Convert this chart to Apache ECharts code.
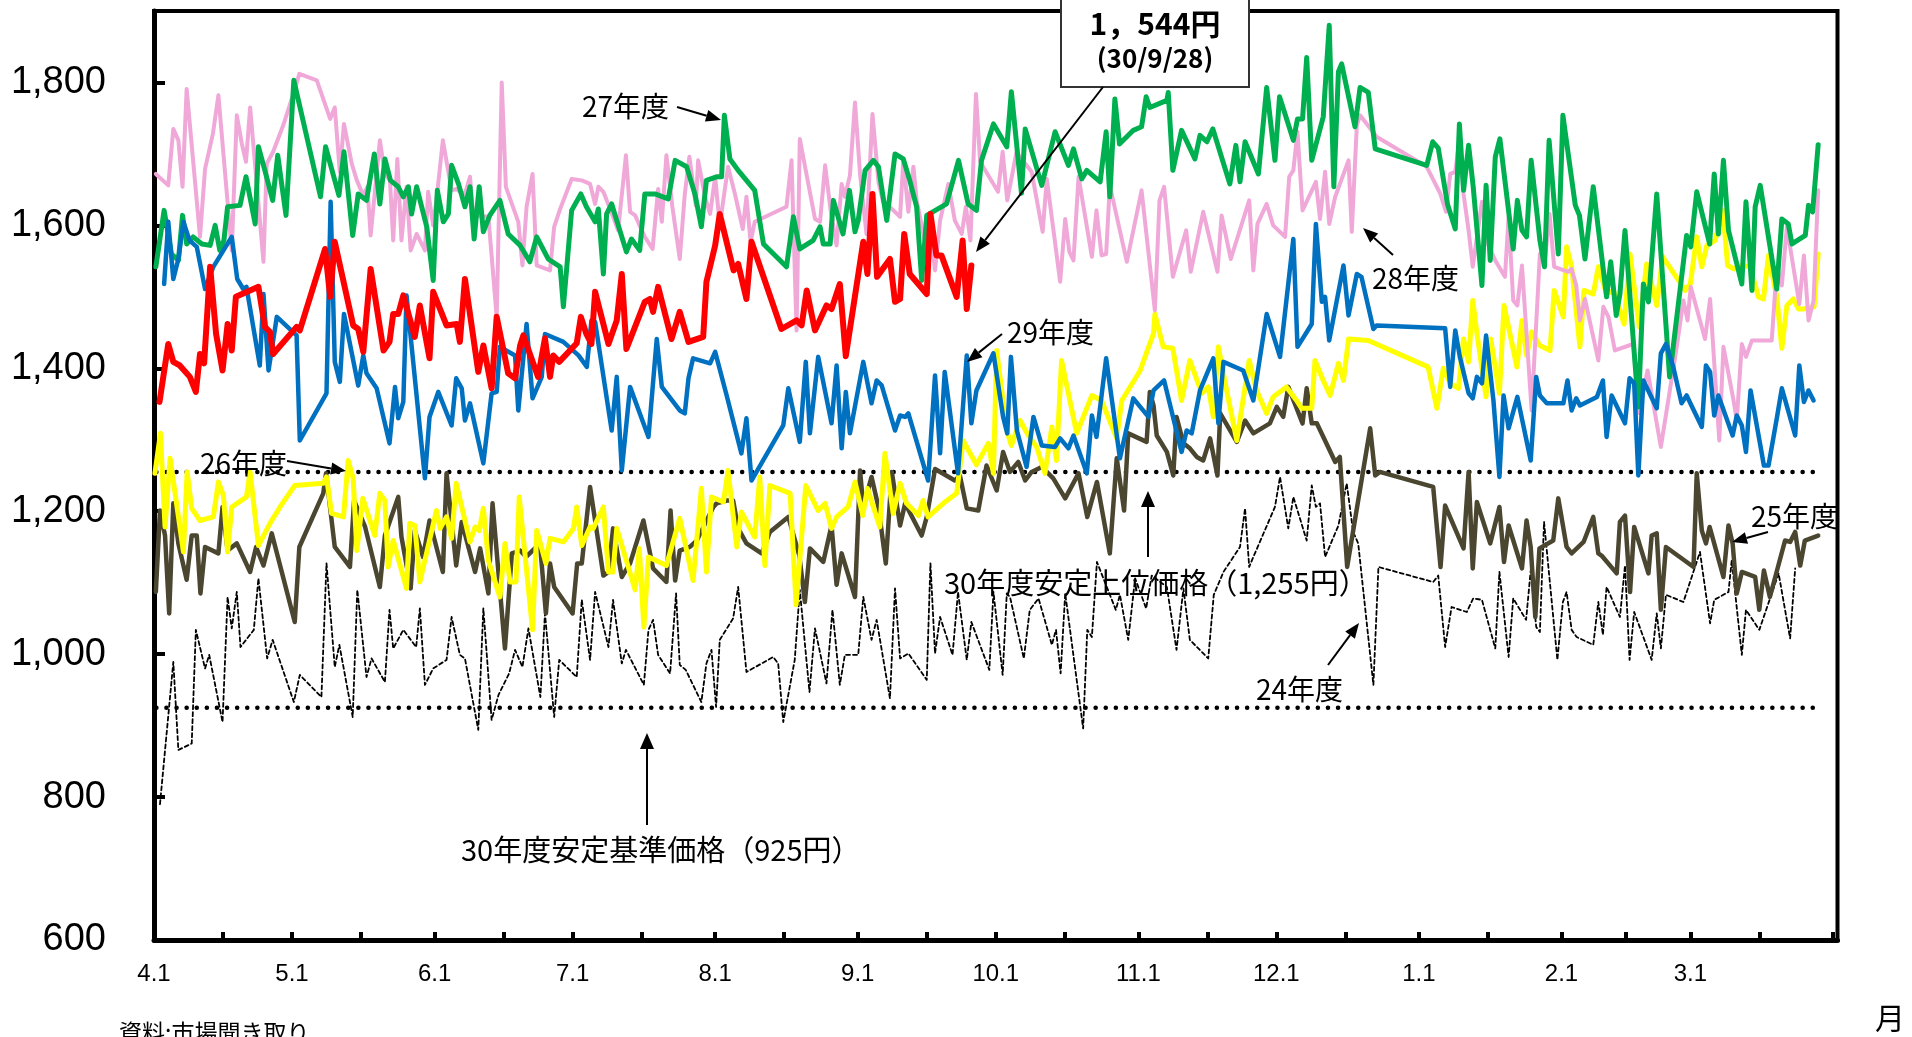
<!DOCTYPE html>
<html><head><meta charset="utf-8">
<script src="https://cdn.jsdelivr.net/npm/echarts@6/dist/echarts.min.js"></script>
<style>html,body{margin:0;padding:0;background:#fff;overflow:hidden}#c{width:1912px;height:1037px}</style>
</head><body><div id="c"></div>
<script>
// ---- axis definitions (day index from April 1) ----
const monthTickDays = [0,30,61,91,122,153,183,214,244,275,306,334];
const monthLabels = ['4.1','5.1','6.1','7.1','8.1','9.1','10.1','11.1','12.1','1.1','2.1','3.1'];
const halfTickDays = [0,15,30,45,61,76,91,106,122,137,153,168,183,198,214,229,244,259,275,290,306,320,334,349,365];
const yTicks = [600,800,1000,1200,1400,1600,1800];

// ---- reference prices ----
const upperPrice = 1255;
const basePrice = 925;
const refDays = [0.5, 361.5];

// ---- series: [day, price] ----
const FY30 = [[1.2,1353],[3.1,1434],[4.2,1409],[5.6,1404],[7.8,1388],[9.1,1367],[10.0,1420],[10.9,1407],[12.2,1542],[13.5,1448],[14.9,1397],[16.0,1462],[16.9,1425],[17.8,1500],[22.7,1514],[24.1,1458],[25.2,1451],[25.9,1420],[31.0,1458],[31.7,1453],[37.2,1567],[38.3,1500],[39.3,1577],[43.3,1460],[44.4,1455],[45.5,1423],[47.1,1539],[49.9,1425],[51.2,1437],[52.0,1476],[53.1,1476],[54.2,1502],[56.7,1444],[57.8,1488],[59.9,1414],[60.7,1507],[63.6,1460],[65.8,1462],[66.5,1437],[67.6,1525],[70.5,1395],[71.6,1432],[73.4,1372],[74.5,1472],[77.0,1393],[78.5,1386],[79.6,1432],[80.3,1446],[83.5,1388],[85.0,1442],[86.1,1388],[86.8,1418],[88.1,1409],[91.9,1435],[92.8,1472],[94.0,1448],[95.1,1434],[95.9,1507],[98.8,1434],[100.6,1467],[101.7,1532],[102.7,1427],[106.7,1493],[107.8,1497],[108.5,1479],[109.6,1514],[112.5,1441],[114.3,1479],[116.2,1437],[119.4,1444],[120.1,1521],[122.0,1572],[123.0,1616],[126.0,1537],[127.0,1546],[128.8,1497],[129.9,1577],[136.4,1455],[139.7,1467],[140.8,1460],[141.9,1509],[143.7,1453],[146.2,1488],[147.3,1483],[149.1,1518],[150.4,1417],[154.2,1577],[155.1,1532],[156.2,1644],[157.2,1528],[160.0,1553],[161.1,1493],[162.2,1497],[163.1,1588],[164.3,1532],[168.0,1504],[168.8,1616],[170.1,1558],[171.2,1558],[174.5,1500],[175.8,1579],[176.7,1483],[177.7,1544]];

const FY27 = [[0.4,1542],[2.2,1621],[3.8,1560],[5.3,1551],[6.2,1614],[7.1,1574],[8.5,1584],[10.4,1574],[12.2,1572],[13.3,1600],[14.3,1565],[15.2,1579],[16.0,1626],[18.7,1628],[20.0,1668],[22.0,1602],[22.7,1710],[24.1,1677],[25.8,1635],[26.9,1698],[28.7,1614],[30.4,1803],[36.2,1640],[37.3,1710],[40.2,1642],[41.3,1703],[43.2,1586],[44.4,1644],[46.2,1635],[47.9,1700],[49.1,1630],[50.2,1693],[51.4,1663],[53.1,1654],[54.2,1640],[55.3,1654],[56.0,1616],[57.1,1654],[59.3,1598],[60.7,1523],[61.6,1649],[62.9,1605],[64.0,1616],[64.7,1684],[66.2,1658],[67.6,1626],[68.7,1654],[69.6,1581],[70.7,1654],[71.6,1591],[73.0,1614],[75.2,1635],[77.0,1588],[79.6,1572],[81.7,1549],[83.2,1584],[85.7,1553],[88.3,1542],[89.0,1486],[90.8,1621],[92.8,1644],[94.0,1626],[95.9,1605],[96.6,1623],[97.7,1532],[98.4,1616],[99.5,1630],[102.7,1563],[103.8,1581],[105.6,1565],[106.7,1644],[108.9,1644],[111.8,1637],[113.3,1691],[115.8,1682],[117.6,1644],[119.0,1598],[120.1,1663],[122.3,1668],[123.4,1668],[124.0,1754],[125.2,1693],[127.0,1677],[130.6,1649],[132.5,1574],[137.5,1542],[139.0,1612],[140.4,1567],[143.3,1579],[144.8,1598],[145.5,1574],[147.0,1574],[147.7,1635],[149.8,1588],[151.2,1649],[152.4,1591],[153.1,1607],[154.6,1677],[156.4,1691],[157.5,1682],[159.3,1607],[161.1,1700],[162.9,1693],[164.3,1663],[165.8,1626],[166.9,1523],[168.0,1614],[172.3,1630],[174.9,1691],[177.0,1630],[178.8,1621],[179.9,1691],[182.5,1742],[185.4,1710],[186.4,1787],[188.6,1645],[189.4,1735],[193.0,1656],[195.9,1731],[198.8,1684],[199.9,1707],[201.7,1665],[202.8,1677],[205.7,1661],[207.0,1731],[207.8,1640],[208.9,1777],[209.9,1714],[212.9,1733],[214.7,1738],[215.7,1780],[216.5,1765],[220.2,1775],[220.5,1786],[221.5,1677],[223.4,1733],[226.3,1693],[227.4,1726],[228.9,1717],[230.2,1735],[233.9,1658],[235.2,1712],[236.1,1661],[237.2,1717],[240.1,1672],[241.9,1793],[243.7,1691],[244.7,1780],[247.7,1719],[248.6,1749],[249.7,1749],[250.6,1835],[251.7,1691],[254.2,1752],[255.5,1880],[256.5,1654],[257.5,1815],[258.2,1826],[261.1,1738],[262.2,1793],[264.0,1786],[265.5,1707],[276.7,1684],[278.0,1717],[279.2,1708],[281.2,1630],[282.9,1595],[283.8,1742],[284.7,1649],[285.8,1712],[286.8,1654],[288.7,1516],[289.6,1656],[290.5,1551],[291.6,1696],[292.6,1721],[295.5,1567],[296.4,1635],[297.4,1593],[298.4,1584],[299.4,1691],[301.3,1579],[302.3,1542],[303.3,1719],[305.3,1560],[306.3,1754],[309.0,1628],[309.9,1614],[311.1,1553],[312.9,1654],[315.8,1500],[316.7,1549],[317.9,1474],[318.7,1504],[319.8,1593],[322.7,1346],[323.8,1518],[324.9,1493],[326.7,1644],[329.5,1388],[333.2,1586],[334.1,1570],[335.4,1647],[338.2,1574],[339.2,1672],[340.1,1588],[341.2,1691],[342.3,1593],[345.2,1518],[346.1,1633],[347.4,1509],[348.1,1626],[349.2,1656],[352.8,1511],[353.9,1609],[355.3,1602],[356.1,1574],[359.0,1586],[359.7,1628],[360.6,1619],[361.8,1713]];

const FY28 = [[0.4,1672],[3.1,1656],[4.2,1735],[5.3,1719],[6.2,1654],[7.1,1791],[10.0,1584],[11.1,1679],[12.8,1728],[14.0,1782],[16.9,1565],[18.0,1754],[19.1,1714],[20.0,1689],[20.9,1765],[23.8,1549],[24.5,1686],[25.9,1703],[28.1,1740],[30.4,1786],[31.6,1812],[35.4,1803],[38.3,1749],[39.3,1765],[40.4,1675],[41.3,1742],[43.0,1686],[44.1,1663],[45.5,1642],[46.4,1654],[47.1,1586],[49.1,1719],[50.2,1672],[51.3,1663],[52.0,1579],[52.9,1693],[53.8,1579],[54.9,1654],[55.8,1565],[57.1,1588],[58.9,1565],[59.6,1647],[60.7,1600],[61.6,1647],[62.8,1719],[64.7,1649],[65.8,1651],[66.5,1647],[67.6,1644],[68.7,1668],[69.4,1614],[72.7,1612],[74.5,1472],[75.6,1800],[76.5,1654],[79.2,1605],[80.1,1544],[81.0,1626],[82.3,1672],[83.2,1544],[86.1,1537],[87.0,1598],[88.3,1623],[90.8,1665],[93.0,1663],[94.8,1658],[95.9,1630],[96.6,1654],[97.7,1647],[99.8,1612],[100.9,1593],[102.6,1698],[103.5,1619],[104.6,1614],[106.7,1584],[108.4,1567],[109.6,1651],[110.4,1605],[111.4,1698],[112.7,1626],[114.3,1553],[115.4,1644],[116.4,1696],[117.8,1628],[118.3,1691],[119.8,1640],[120.9,1616],[122.0,1668],[123.0,1600],[124.8,1682],[126.3,1644],[128.0,1595],[128.8,1640],[129.7,1577],[130.6,1605],[137.5,1626],[138.6,1691],[139.7,1453],[140.4,1721],[141.9,1670],[143.7,1609],[144.8,1605],[145.9,1684],[147.1,1621],[148.4,1572],[149.5,1658],[150.2,1640],[151.3,1670],[152.4,1772],[153.5,1672],[154.9,1588],[156.2,1756],[157.5,1661],[158.5,1633],[159.6,1628],[162.2,1612],[162.9,1691],[164.0,1619],[165.1,1682],[165.8,1635],[167.6,1577],[168.7,1605],[169.8,1537],[170.9,1607],[172.7,1658],[174.1,1607],[175.6,1588],[176.5,1626],[177.5,1579],[178.7,1784],[179.6,1689],[183.5,1647],[184.5,1703],[185.5,1635],[187.5,1702],[190.8,1675],[193.2,1591],[194.1,1665],[197.0,1521],[198.1,1609],[199.0,1563],[199.9,1551],[201.0,1668],[203.9,1556],[204.9,1621],[206.0,1558],[207.0,1560],[207.8,1656],[211.5,1549],[214.7,1649],[217.6,1481],[218.6,1635],[219.6,1654],[221.5,1528],[224.4,1593],[225.4,1535],[228.1,1619],[231.2,1535],[232.1,1614],[234.1,1553],[238.1,1635],[239.0,1537],[239.9,1602],[241.9,1630],[243.3,1600],[245.9,1584],[246.8,1668],[247.7,1677],[248.6,1731],[249.7,1621],[252.6,1661],[253.5,1609],[254.6,1675],[255.5,1602],[256.8,1640],[259.7,1691],[260.4,1591],[261.5,1740],[262.2,1754],[265.8,1724],[276.7,1682],[279.6,1645],[280.9,1619],[281.8,1672],[282.9,1675],[283.8,1721],[284.7,1644],[285.8,1593],[286.7,1542],[288.7,1633],[290.1,1572],[291.6,1551],[293.7,1528],[294.5,1612],[295.5,1495],[296.4,1488],[297.4,1544],[299.5,1341],[301.3,1560],[302.3,1546],[303.4,1616],[304.4,1542],[307.5,1535],[308.2,1539],[309.2,1516],[310.0,1467],[311.1,1497],[314.0,1411],[315.1,1486],[316.2,1472],[317.6,1425],[321.6,1434],[322.9,1337],[324.7,1397],[327.6,1290],[331.1,1432],[332.5,1495],[333.4,1467],[334.1,1514],[337.2,1441],[338.3,1497],[340.3,1299],[341.2,1430],[343.4,1355],[344.1,1327],[345.2,1434],[346.1,1416],[347.4,1439],[351.7,1439],[352.8,1542],[353.9,1516],[355.0,1598],[356.4,1542],[357.7,1490],[358.7,1558],[359.7,1467],[360.8,1495],[361.8,1649]];

const FY29 = [[2.2,1518],[3.1,1605],[4.2,1525],[5.3,1553],[6.4,1605],[7.7,1579],[9.3,1570],[11.1,1511],[12.9,1542],[16.9,1584],[18.1,1525],[19.4,1511],[20.1,1514],[23.0,1404],[23.8,1504],[24.9,1397],[26.7,1472],[31.0,1446],[31.7,1299],[37.5,1365],[38.4,1633],[39.3,1409],[40.4,1381],[41.3,1476],[44.4,1376],[45.5,1418],[46.2,1393],[48.4,1372],[51.2,1295],[52.4,1374],[53.1,1330],[54.2,1353],[54.9,1502],[58.9,1246],[59.9,1332],[61.8,1367],[64.7,1320],[65.7,1386],[66.9,1372],[67.6,1327],[68.7,1351],[71.6,1267],[73.4,1365],[74.5,1367],[75.2,1430],[78.5,1418],[79.2,1341],[81.0,1462],[82.3,1358],[84.3,1388],[85.0,1448],[89.0,1437],[92.3,1418],[94.1,1402],[95.1,1467],[95.9,1465],[99.5,1313],[100.6,1388],[101.7,1257],[103.5,1374],[107.5,1304],[109.3,1441],[110.4,1374],[114.3,1341],[115.4,1337],[116.2,1386],[117.2,1414],[120.9,1407],[122.0,1423],[124.5,1362],[127.7,1281],[128.8,1330],[129.9,1243],[136.8,1320],[137.9,1372],[140.4,1297],[141.7,1409],[142.6,1309],[144.4,1416],[147.3,1323],[148.4,1404],[149.5,1288],[150.4,1367],[151.3,1309],[154.2,1409],[156.0,1351],[157.1,1383],[158.2,1376],[161.1,1313],[162.2,1334],[163.3,1332],[164.0,1337],[168.3,1243],[169.8,1390],[170.9,1281],[171.9,1395],[174.8,1253],[176.7,1418],[177.7,1323],[178.8,1369],[182.5,1421],[184.6,1332],[185.5,1309],[186.3,1416],[187.6,1313],[189.7,1262],[191.2,1332],[193.0,1292],[195.9,1290],[197.0,1302],[198.8,1288],[199.9,1306],[202.8,1253],[203.9,1334],[204.9,1304],[207.0,1414],[210.0,1274],[212.9,1358],[216.2,1332],[217.3,1369],[219.6,1383],[223.4,1283],[224.5,1313],[225.6,1309],[227.4,1369],[230.3,1414],[231.4,1323],[232.5,1409],[236.8,1397],[239.0,1355],[241.9,1476],[244.8,1416],[247.7,1581],[248.6,1430],[251.7,1462],[252.6,1602],[253.9,1493],[254.6,1500],[255.5,1439],[258.6,1544],[259.7,1474],[261.5,1532],[262.5,1528],[265.1,1455],[265.8,1460],[280.7,1456],[281.8,1374],[282.9,1453],[283.9,1416],[285.8,1365],[286.7,1358],[287.6,1388],[288.7,1379],[289.6,1446],[291.2,1355],[292.5,1248],[293.4,1362],[294.5,1316],[296.4,1360],[299.3,1271],[300.5,1388],[301.3,1362],[302.8,1351],[306.4,1351],[307.3,1383],[308.2,1341],[309.2,1358],[310.0,1348],[313.7,1360],[315.0,1383],[315.8,1304],[316.9,1362],[319.8,1323],[320.8,1386],[321.8,1379],[322.7,1250],[323.8,1383],[326.7,1344],[327.6,1421],[328.7,1434],[330.3,1402],[332.1,1351],[333.2,1362],[336.5,1318],[337.4,1404],[338.3,1395],[339.2,1334],[340.1,1362],[343.2,1306],[344.1,1334],[345.2,1320],[346.1,1283],[347.1,1369],[350.0,1264],[351.0,1264],[352.8,1330],[353.9,1372],[356.8,1306],[357.7,1404],[358.7,1353],[359.7,1369],[360.8,1355]];

const FY26 = [[0.2,1253],[1.4,1309],[2.4,1178],[3.5,1274],[6.4,1143],[7.2,1255],[8.2,1204],[10.0,1187],[12.9,1192],[14.0,1241],[15.1,1222],[16.0,1143],[16.9,1206],[20.1,1220],[20.9,1255],[22.7,1152],[25.2,1183],[27.4,1206],[30.6,1236],[36.8,1239],[37.5,1248],[38.6,1197],[41.2,1192],[42.2,1271],[43.3,1246],[44.1,1145],[45.4,1218],[48.0,1166],[49.1,1225],[50.2,1215],[50.9,1122],[52.0,1159],[54.9,1092],[55.6,1183],[56.7,1180],[57.8,1101],[61.4,1201],[62.2,1176],[63.6,1192],[64.7,1162],[65.7,1239],[68.7,1157],[69.8,1178],[70.7,1173],[71.6,1204],[72.7,1131],[75.2,1080],[76.3,1155],[77.4,1101],[78.7,1101],[79.4,1220],[82.3,1034],[83.2,1173],[85.2,1127],[86.1,1162],[89.0,1157],[91.2,1176],[91.9,1206],[93.0,1152],[94.8,1178],[95.5,1176],[97.7,1206],[98.8,1115],[99.8,1115],[100.6,1176],[104.6,1090],[105.5,1148],[106.5,1038],[107.5,1136],[111.4,1124],[114.3,1190],[117.2,1103],[119.0,1232],[120.1,1115],[121.2,1220],[123.8,1213],[124.8,1257],[126.7,1150],[127.7,1199],[130.6,1164],[131.7,1248],[132.8,1124],[133.9,1236],[138.3,1225],[139.6,1069],[141.7,1236],[144.4,1201],[145.9,1211],[147.3,1176],[148.4,1192],[150.9,1206],[152.4,1241],[154.1,1194],[155.1,1232],[157.8,1178],[158.9,1281],[160.7,1197],[162.2,1239],[163.6,1211],[166.2,1194],[167.2,1215],[168.3,1192],[171.6,1211],[174.5,1225],[175.9,1299],[178.8,1265],[181.4,1295],[182.5,1253],[183.2,1425],[185.4,1313],[186.4,1292],[188.3,1327],[190.1,1306],[191.9,1290],[193.7,1253],[195.2,1318],[196.2,1271],[197.3,1411],[200.6,1309],[203.9,1362],[206.0,1355],[209.3,1302],[210.4,1355],[214.4,1397],[217.3,1449],[217.6,1476],[219.4,1430],[221.5,1428],[223.4,1355],[225.2,1411],[227.8,1365],[229.2,1374],[230.3,1332],[231.4,1430],[233.2,1369],[235.4,1299],[238.1,1411],[239.7,1369],[241.9,1337],[243.3,1360],[246.2,1374],[248.4,1355],[249.5,1344],[251.7,1344],[252.4,1411],[254.2,1383],[255.7,1362],[257.5,1407],[258.6,1383],[259.7,1441],[264.0,1439],[277.0,1402],[278.9,1344],[280.3,1400],[281.8,1379],[283.6,1372],[284.7,1441],[285.8,1409],[286.7,1495],[287.6,1449],[289.6,1360],[290.6,1441],[292.5,1365],[293.5,1488],[296.3,1402],[297.4,1467],[298.4,1418],[299.5,1451],[301.3,1432],[303.5,1425],[304.4,1509],[306.4,1472],[307.1,1570],[308.2,1542],[310.0,1430],[310.9,1509],[312.9,1504],[314.0,1542],[315.8,1504],[317.3,1509],[319.6,1462],[320.9,1560],[322.9,1458],[324.5,1546],[326.7,1488],[328.0,1556],[332.9,1509],[334.0,1518],[335.4,1584],[336.5,1542],[337.6,1572],[339.4,1579],[341.1,1621],[342.1,1544],[343.4,1539],[345.2,1544],[347.0,1542],[348.8,1500],[349.9,1497],[351.0,1558],[352.8,1500],[353.9,1428],[355.0,1488],[356.4,1497],[357.5,1483],[358.6,1483],[360.9,1486],[361.8,1560]];

const FY25 = [[0.4,1087],[1.3,1201],[2.4,1166],[3.3,1057],[4.2,1211],[5.3,1155],[7.1,1104],[8.2,1166],[9.3,1166],[10.1,1085],[11.1,1150],[14.0,1141],[14.9,1206],[16.0,1145],[18.0,1155],[20.9,1115],[22.2,1150],[23.8,1124],[25.6,1169],[30.6,1045],[31.6,1150],[36.8,1225],[37.4,1253],[39.3,1150],[42.6,1122],[43.5,1215],[45.9,1178],[49.1,1094],[50.2,1166],[53.1,1220],[53.8,1164],[55.8,1092],[56.7,1173],[58.5,1136],[59.9,1187],[62.8,1115],[63.6,1253],[65.7,1124],[66.9,1185],[69.8,1115],[70.9,1148],[72.7,1085],[73.6,1211],[76.3,1008],[77.8,1141],[79.6,1145],[80.9,1136],[83.9,1155],[85.2,1057],[86.1,1127],[87.0,1094],[91.0,1057],[92.0,1127],[93.0,1127],[94.8,1234],[97.7,1110],[98.8,1115],[99.8,1176],[101.7,1108],[103.5,1127],[106.4,1187],[108.5,1120],[111.4,1101],[112.3,1201],[113.3,1103],[114.3,1145],[116.5,1150],[118.0,1159],[121.6,1206],[122.3,1211],[124.5,1215],[125.9,1215],[127.0,1176],[128.8,1155],[132.1,1141],[133.9,1171],[137.9,1192],[140.3,1138],[141.5,1073],[142.6,1148],[145.5,1129],[147.3,1180],[148.4,1097],[149.5,1141],[152.4,1080],[153.5,1257],[154.2,1206],[156.0,1248],[157.5,1206],[159.1,1127],[160.4,1255],[162.2,1180],[163.3,1211],[166.9,1166],[168.0,1192],[169.8,1259],[174.1,1243],[175.2,1250],[176.7,1204],[179.2,1201],[181.0,1264],[183.2,1229],[184.6,1283],[186.1,1255],[187.9,1269],[189.4,1243],[190.8,1255],[193.0,1262],[195.5,1246],[198.1,1218],[201.0,1253],[202.9,1192],[205.0,1241],[207.8,1141],[209.3,1274],[210.9,1201],[211.8,1309],[215.8,1297],[216.5,1367],[217.3,1348],[218.0,1306],[220.2,1283],[221.6,1250],[222.3,1332],[223.8,1295],[225.2,1288],[226.7,1276],[228.1,1271],[229.6,1302],[231.2,1250],[231.8,1337],[235.4,1297],[237.2,1327],[239.0,1309],[242.6,1323],[244.1,1346],[245.5,1332],[246.6,1374],[249.7,1323],[250.6,1372],[251.7,1323],[252.8,1323],[256.8,1269],[257.8,1276],[259.4,1122],[264.4,1316],[265.5,1250],[266.5,1255],[278.1,1234],[279.7,1122],[280.7,1208],[284.7,1148],[285.8,1255],[286.7,1120],[287.6,1213],[290.5,1155],[292.5,1206],[293.5,1129],[294.5,1180],[297.4,1120],[298.4,1187],[299.3,1150],[300.3,1052],[301.2,1148],[304.2,1159],[305.3,1218],[307.1,1150],[308.2,1141],[310.8,1157],[312.9,1192],[314.0,1141],[314.7,1138],[318.0,1113],[318.7,1185],[319.8,1194],[320.9,1087],[321.8,1178],[324.9,1113],[325.6,1166],[326.7,1169],[327.6,1062],[328.7,1150],[334.7,1122],[335.4,1253],[336.5,1173],[337.4,1155],[338.2,1178],[341.2,1108],[342.3,1180],[343.2,1155],[344.1,1085],[345.2,1115],[348.1,1108],[349.0,1062],[350.0,1117],[351.3,1080],[354.6,1159],[355.7,1157],[356.8,1171],[357.9,1124],[358.9,1159],[361.8,1166]];

const FY24 = [[1.3,790],[4.2,989],[5.3,866],[8.2,875],[9.1,1034],[11.1,980],[12.0,999],[14.9,905],[16.0,1080],[16.9,1036],[18.0,1087],[18.8,1010],[21.7,1034],[22.7,1106],[24.6,994],[25.8,1020],[30.4,933],[31.7,971],[36.4,940],[37.5,1127],[39.3,982],[40.3,1013],[43.2,912],[44.2,1090],[46.2,968],[47.3,994],[50.2,961],[51.2,1062],[52.0,1008],[54.2,1034],[57.0,1010],[57.8,1064],[58.9,957],[60.7,980],[63.6,992],[64.7,1052],[66.5,999],[67.6,994],[70.5,894],[71.6,1064],[73.4,908],[74.9,943],[77.2,973],[78.5,1006],[80.1,982],[81.4,1036],[84.0,940],[85.0,1057],[87.0,912],[88.1,992],[91.9,968],[93.0,1076],[94.8,992],[95.9,1087],[98.8,1010],[99.8,1076],[101.7,987],[102.6,1006],[106.5,957],[107.5,1034],[108.5,1048],[109.6,999],[112.2,973],[113.5,1085],[114.3,985],[115.6,978],[119.0,933],[120.1,987],[121.2,1006],[122.2,926],[123.0,1020],[125.9,1050],[127.0,1094],[128.8,975],[134.6,996],[135.7,987],[136.8,905],[139.3,992],[140.4,1090],[142.5,947],[143.7,1036],[146.2,959],[147.5,1062],[149.1,957],[150.2,999],[153.1,999],[154.2,1080],[156.0,1020],[157.1,1048],[160.0,938],[161.1,1092],[162.2,994],[164.0,1001],[168.0,964],[168.8,1127],[169.8,1001],[170.9,1052],[173.6,999],[174.8,1087],[176.7,992],[177.7,1045],[181.6,978],[182.5,1087],[184.5,971],[185.4,1085],[186.1,1080],[189.1,994],[190.4,1062],[192.3,1078],[195.2,1013],[196.1,1034],[197.1,973],[198.1,1085],[202.0,896],[202.9,1034],[203.9,1024],[205.0,1129],[209.1,1062],[210.0,1083],[211.8,1020],[213.3,1106],[215.7,1064],[216.9,1110],[220.2,1094],[222.3,1006],[223.8,1092],[225.2,1020],[229.2,994],[230.4,1083],[232.5,1115],[236.1,1150],[237.2,1204],[238.1,1122],[239.0,1136],[243.7,1206],[244.8,1248],[246.6,1176],[247.7,1220],[250.6,1159],[251.7,1236],[252.6,1206],[253.5,1211],[254.6,1136],[257.5,1180],[259.3,1239],[260.7,1171],[261.8,1155],[265.1,957],[266.2,1122],[278.1,1101],[279.2,1110],[280.7,1010],[282.1,1066],[285.4,1059],[286.8,1078],[288.7,1076],[291.6,1008],[292.5,1115],[294.5,996],[295.5,1078],[298.3,1048],[299.3,1117],[300.5,1038],[301.3,1031],[302.2,1185],[305.1,992],[306.3,1073],[307.1,1087],[308.2,1034],[309.3,1024],[312.9,1013],[314.0,1073],[315.0,1027],[315.8,1094],[318.7,1052],[319.8,1124],[320.8,992],[321.8,1059],[325.6,992],[326.7,1057],[327.6,1008],[328.7,1083],[332.5,1073],[336.1,1143],[338.3,1043],[339.2,1076],[342.3,1087],[343.0,1131],[345.2,999],[346.1,1062],[349.0,1034],[353.2,1113],[355.7,1022],[356.8,1120]];

// ---- styling ----
const NUM_FONT = "'Liberation Sans Narrow','Liberation Sans',Arial,sans-serif";
const JP_FONT = "'Noto Sans CJK JP','Noto Sans',sans-serif";

function lineSeries(name, data, color, width, dash, z) {
  return {
    name, type: 'line', data, z, symbol: 'none', showSymbol: false, silent: true,
    connectNulls: true, animation: false,
    lineStyle: { color, width, type: dash || 'solid', cap: 'round', join: 'round' }
  };
}
function refSeries(name, price) {
  return {
    name, type: 'line', z: 1, symbol: 'none', silent: true, animation: false,
    data: refDays.map(d => [d, price]),
    lineStyle: { color: '#000', width: 4.5, type: [0.1, 10], cap: 'round' }
  };
}

function arrow(x1, y1, x2, y2, head, half) {
  head = head || 15; half = half || 6;
  const dx = x2 - x1, dy = y2 - y1, L = Math.hypot(dx, dy), ux = dx / L, uy = dy / L;
  const bx = x2 - ux * head, by = y2 - uy * head;
  const px = -uy * half, py = ux * half;
  return [
    { type: 'line', z: 100, shape: { x1, y1, x2: bx, y2: by }, style: { stroke: '#000', lineWidth: 2 } },
    { type: 'polygon', z: 100, shape: { points: [[x2, y2], [bx + px, by + py], [bx - px, by - py]] }, style: { fill: '#000' } }
  ];
}
function label(text, x, y, size, align, weight) {
  return { type: 'text', z: 101, x, y, style: { text, fill: '#000', font: (weight || 'normal') + ' ' + size + 'px ' + JP_FONT, textAlign: align || 'left', textVerticalAlign: 'middle' } };
}

const graphics = [].concat(
  [{ type: 'rect', z: 100, shape: { x: 1061, y: -6, width: 188, height: 93 }, style: { fill: '#fff', stroke: '#333', lineWidth: 2 } }],
  [label('1，544円', 1155, 24, 30, 'center', 'bold'), label('(30/9/28)', 1155, 58, 26, 'center', 'bold')],
  arrow(1103, 87, 976, 252),
  [label('27年度', 582, 106, 28)], arrow(677, 107, 721, 120),
  [label('28年度', 1372, 278, 28)], arrow(1393, 255, 1363, 228),
  [label('29年度', 1007, 332, 28)], arrow(1002, 334, 967, 362),
  [label('26年度', 200, 463, 28)], arrow(287, 461, 346, 471),
  [label('25年度', 1751, 516, 28)], arrow(1768, 532, 1732, 542),
  [label('24年度', 1256, 689, 28)], arrow(1328, 665, 1359, 623),
  [label('30年度安定上位価格（1,255円）', 944, 583, 29)], arrow(1148, 557, 1148, 491, 16, 7),
  [label('30年度安定基準価格（925円）', 461, 850, 29)], arrow(647, 825, 647, 733, 16, 7),
  [label('月', 1890, 1018, 30, 'center')],
  [label('資料:市場聞き取り', 119, 1032, 23)]
);

const chart = echarts.init(document.getElementById('c'), null, { renderer: 'canvas' });
chart.setOption({
  animation: false,
  backgroundColor: '#fff',
  grid: { left: 154, right: 74.5, top: 11, bottom: 97, show: true, borderColor: '#000', borderWidth: 4, backgroundColor: 'transparent' },
  xAxis: {
    type: 'value', min: 0, max: 366,
    axisLine: { show: true, lineStyle: { color: '#000', width: 5 } },
    axisTick: { show: true, inside: true, length: 8, lineStyle: { color: '#000', width: 4 }, customValues: halfTickDays },
    axisLabel: { customValues: monthTickDays, margin: 22, color: '#000', fontSize: 24, fontFamily: NUM_FONT,
      formatter: v => monthLabels[monthTickDays.indexOf(v)] || '' },
    splitLine: { show: false }
  },
  yAxis: {
    type: 'value', min: 600, max: 1900,
    axisLine: { show: true, lineStyle: { color: '#000', width: 5 } },
    axisTick: { show: true, inside: true, length: 11, lineStyle: { color: '#000', width: 4 }, customValues: yTicks },
    axisLabel: { customValues: yTicks, margin: 48, color: '#000', fontSize: 38, fontFamily: NUM_FONT,
      formatter: v => String(v).replace(/\B(?=(\d{3})+$)/g, ',') },
    splitLine: { show: false }
  },
  series: [
    refSeries('安定上位価格', upperPrice),
    refSeries('安定基準価格', basePrice),
    lineSeries('24年度', FY24, '#000', 1.8, [4, 3], 2),
    lineSeries('25年度', FY25, '#4b4630', 4.5, null, 3),
    lineSeries('26年度', FY26, '#ffff00', 5, null, 4),
    lineSeries('28年度', FY28, '#f0a8d8', 4, null, 5),
    lineSeries('27年度', FY27, '#00b050', 5, null, 6),
    lineSeries('29年度', FY29, '#0070c0', 4.5, null, 7),
    lineSeries('30年度', FY30, '#ff0000', 6, null, 8)
  ],
  graphic: graphics
});
</script>
</body></html>
